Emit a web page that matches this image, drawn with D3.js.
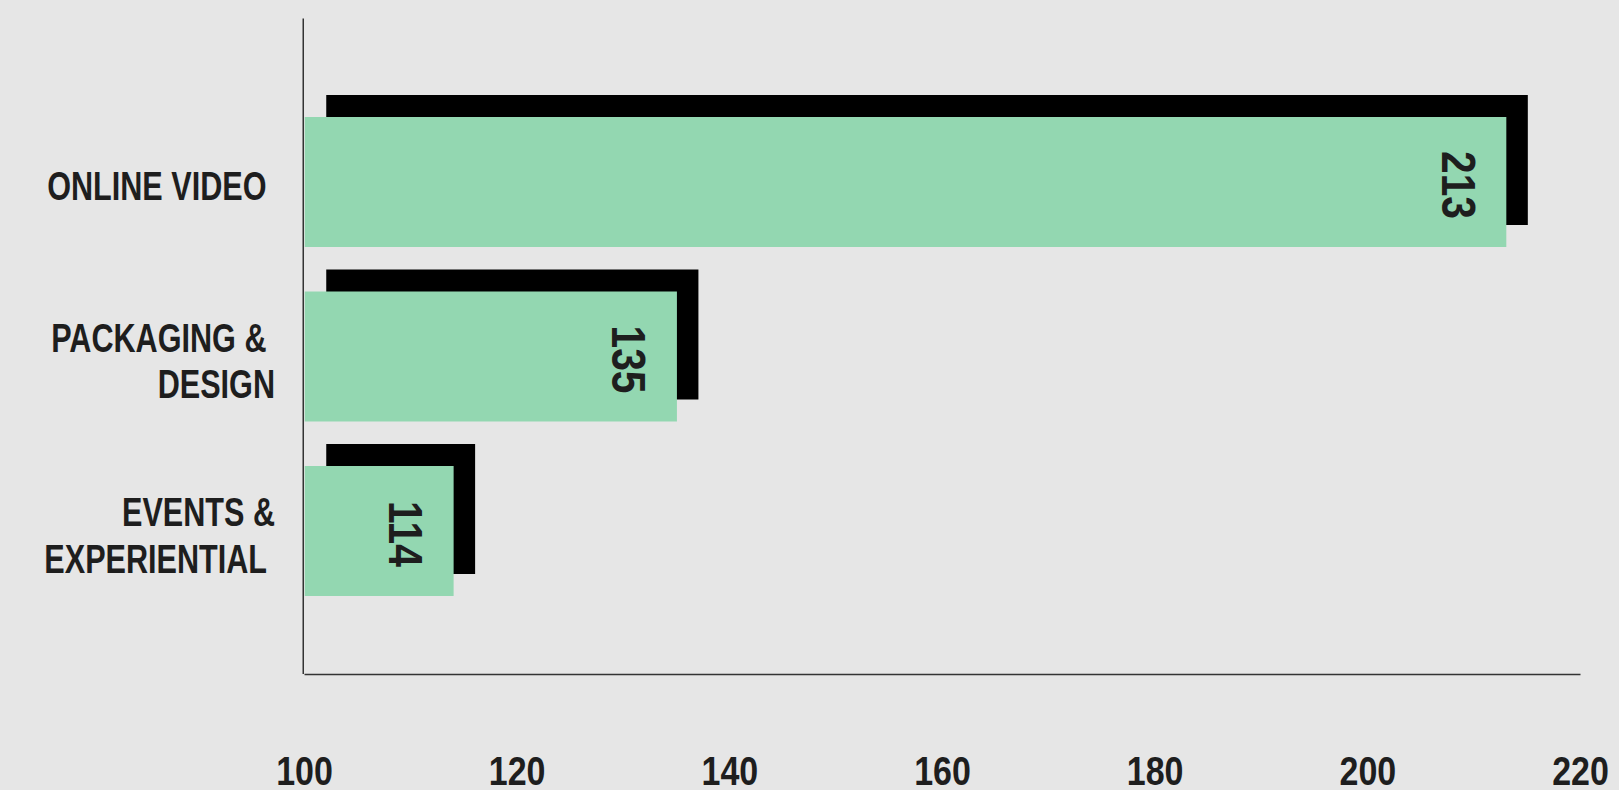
<!DOCTYPE html>
<html>
<head>
<meta charset="utf-8">
<script src="https://cdn.jsdelivr.net/npm/d3@7"></script>
<style>
    body { margin: 0; background: #e6e6e6; }
    text { font-family: "Liberation Sans", Arial, sans-serif; font-weight: bold; fill: #1e1e1e; }
</style>
</head>
<body>
<svg id="chart" width="1619" height="790"></svg>
<script>
// chart data
var categories = ["ONLINE VIDEO", "PACKAGING & DESIGN", "EVENTS & EXPERIENTIAL"];
var labelLines = [["ONLINE VIDEO "], ["PACKAGING & ", "DESIGN"], ["EVENTS &", "EXPERIENTIAL "]];
var values = [213, 135, 114];
var xTicks = [100, 120, 140, 160, 180, 200, 220];

var svg = d3.select("#chart");

var x = d3.scaleLinear().domain([100, 220]).range([304, 1580]);
var y = d3.scaleBand().domain(categories).range([94.75, 618.25]).paddingInner(0.255).paddingOuter(0.1275);

var shadowDx = 21.5, shadowDy = -22;
// no narrow font installed, so squeeze Liberation Sans
var narrow = 0.765, narrowNum = 0.85;

// black offset bars behind
svg.selectAll("rect.shadow")
    .data(values)
    .enter().append("rect")
    .attr("class", "shadow")
    .attr("x", x(100) + 0.75 + shadowDx)
    .attr("y", function(d, i) { return y(categories[i]) + shadowDy; })
    .attr("width", function(d) { return x(d) - x(100); })
    .attr("height", y.bandwidth())
    .attr("fill", "#000");

// green bars
svg.selectAll("rect.bar")
    .data(values)
    .enter().append("rect")
    .attr("class", "bar")
    .attr("x", x(100) + 0.75)
    .attr("y", function(d, i) { return y(categories[i]); })
    .attr("width", function(d) { return x(d) - x(100); })
    .attr("height", y.bandwidth())
    .attr("fill", "#93d7b1");

// rotated value labels
svg.selectAll("text.value")
    .data(values)
    .enter().append("text")
    .attr("class", "value")
    .attr("transform", function(d, i) {
        return "translate(" + (x(d) - 64) + "," + (y(categories[i]) + y.bandwidth() / 2 + 3) + ") rotate(90) scale(" + narrowNum + ",1)";
    })
    .attr("text-anchor", "middle")
    .attr("font-size", 48)
    .text(function(d) { return d; });

// axis lines
svg.append("line")
    .attr("x1", x(100) - 0.75).attr("x2", x(100) - 0.75)
    .attr("y1", 18.6).attr("y2", 674)
    .attr("stroke", "#333").attr("stroke-width", 1.5);

var xAxis = svg.append("g")
    .attr("transform", "translate(0,674)")
    .call(d3.axisBottom(x).tickValues(xTicks).tickSize(0).tickSizeOuter(0).tickPadding(83));
xAxis.select(".domain").attr("stroke", "#333").attr("stroke-width", 1.5);
xAxis.selectAll("text")
    .attr("font-size", 40)
    .attr("font-family", null)
    .attr("transform", "scale(" + narrowNum + ",1)")
    .style("fill", "#1e1e1e");

// category labels
var lineH = 46.5;
svg.selectAll("text.cat")
    .data(labelLines)
    .enter().append("text")
    .attr("class", "cat")
    .attr("text-anchor", "end")
    .attr("font-size", 40)
    .attr("transform", "translate(275,0) scale(" + narrow + ",1)")
    .style("white-space", "pre")
    .each(function(lines, i) {
        var cy = y(categories[i]) + y.bandwidth() / 2;
        var t = d3.select(this);
        lines.forEach(function(s, j) {
            t.append("tspan")
                .attr("x", 0)
                .attr("y", cy + 18.5 + (j - (lines.length - 1) / 2) * lineH)
                .text(s);
        });
    });
</script>
</body>
</html>
